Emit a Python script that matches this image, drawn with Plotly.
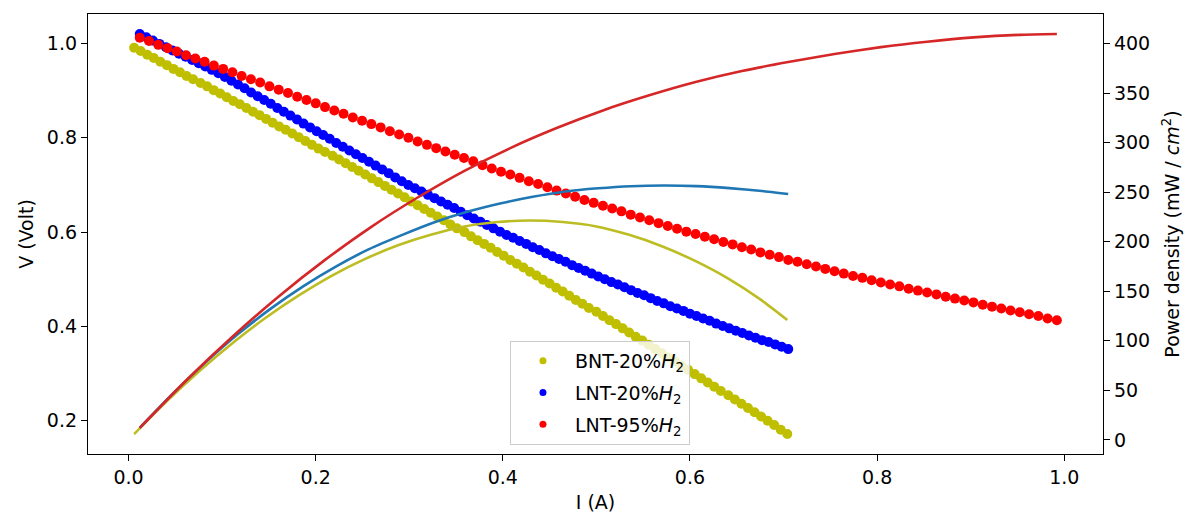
import plotly.graph_objects as go

# ---------------- data ----------------
labels = ["BNT-20%<i>H</i><sub>2</sub>", "LNT-20%<i>H</i><sub>2</sub>", "LNT-95%<i>H</i><sub>2</sub>"]

i_bnt = [0.006,0.013,0.020,0.027,0.034,0.041,0.048,0.055,0.062,0.069,
         0.077,0.084,0.091,0.098,0.105,0.112,0.119,0.126,0.133,0.140,
         0.147,0.154,0.161,0.168,0.175,0.182,0.189,0.196,0.203,0.210,
         0.218,0.225,0.232,0.239,0.246,0.253,0.260,0.267,0.274,0.281,
         0.288,0.295,0.302,0.309,0.316,0.323,0.330,0.337,0.344,0.351,
         0.359,0.366,0.373,0.380,0.387,0.394,0.401,0.408,0.415,0.422,
         0.429,0.436,0.443,0.450,0.457,0.464,0.471,0.478,0.485,0.492,
         0.500,0.507,0.514,0.521,0.528,0.535,0.542,0.549,0.556,0.563,
         0.570,0.577,0.584,0.591,0.598,0.605,0.612,0.619,0.626,0.633,
         0.641,0.648,0.655,0.662,0.669,0.676,0.683,0.690,0.697,0.704]
v_bnt = [0.991,0.984,0.976,0.969,0.961,0.954,0.946,0.939,0.931,0.924,
         0.916,0.909,0.901,0.894,0.886,0.878,0.871,0.863,0.855,0.848,
         0.840,0.832,0.824,0.817,0.809,0.801,0.793,0.785,0.777,0.770,
         0.762,0.754,0.746,0.738,0.730,0.722,0.714,0.706,0.698,0.690,
         0.682,0.674,0.665,0.657,0.649,0.641,0.633,0.625,0.616,0.608,
         0.600,0.591,0.583,0.575,0.567,0.558,0.550,0.541,0.533,0.525,
         0.516,0.508,0.499,0.491,0.482,0.474,0.465,0.456,0.448,0.439,
         0.431,0.422,0.413,0.405,0.396,0.387,0.378,0.370,0.361,0.352,
         0.343,0.334,0.326,0.317,0.308,0.299,0.290,0.281,0.272,0.263,
         0.254,0.245,0.236,0.227,0.218,0.209,0.200,0.191,0.181,0.172]

i_lnt20 = [0.012,0.019,0.026,0.033,0.040,0.047,0.054,0.061,0.068,0.075,
           0.082,0.089,0.096,0.103,0.110,0.117,0.124,0.131,0.138,0.145,
           0.152,0.159,0.166,0.173,0.180,0.187,0.194,0.201,0.208,0.215,
           0.222,0.229,0.236,0.243,0.250,0.257,0.264,0.271,0.278,0.285,
           0.292,0.299,0.306,0.313,0.320,0.327,0.334,0.341,0.348,0.355,
           0.362,0.369,0.376,0.383,0.390,0.397,0.404,0.411,0.418,0.425,
           0.432,0.439,0.446,0.453,0.460,0.467,0.474,0.481,0.488,0.495,
           0.502,0.509,0.516,0.523,0.530,0.537,0.544,0.551,0.558,0.565,
           0.572,0.579,0.586,0.593,0.600,0.607,0.614,0.621,0.628,0.635,
           0.642,0.649,0.656,0.663,0.670,0.677,0.684,0.691,0.698,0.705]
v_lnt20 = [1.020,1.013,1.006,0.999,0.992,0.985,0.978,0.972,0.965,0.958,
           0.951,0.944,0.937,0.929,0.921,0.913,0.905,0.896,0.888,0.880,
           0.872,0.863,0.855,0.847,0.839,0.830,0.822,0.814,0.806,0.798,
           0.789,0.781,0.773,0.765,0.757,0.749,0.741,0.733,0.725,0.716,
           0.708,0.700,0.693,0.686,0.679,0.672,0.665,0.658,0.651,0.643,
           0.636,0.629,0.622,0.615,0.608,0.601,0.594,0.588,0.581,0.575,
           0.568,0.562,0.555,0.549,0.543,0.537,0.530,0.524,0.518,0.512,
           0.506,0.500,0.494,0.489,0.483,0.477,0.471,0.466,0.460,0.454,
           0.449,0.443,0.438,0.433,0.427,0.422,0.417,0.412,0.406,0.401,
           0.396,0.391,0.386,0.381,0.376,0.371,0.367,0.362,0.357,0.352]

i_lnt95 = [0.0120,0.0219,0.0318,0.0417,0.0516,0.0615,0.0714,0.0813,0.0912,0.1011,
           0.1110,0.1209,0.1308,0.1407,0.1506,0.1605,0.1704,0.1803,0.1902,0.2001,
           0.2100,0.2199,0.2298,0.2397,0.2496,0.2595,0.2694,0.2793,0.2892,0.2991,
           0.3090,0.3189,0.3288,0.3387,0.3486,0.3585,0.3684,0.3783,0.3882,0.3981,
           0.4080,0.4179,0.4278,0.4377,0.4476,0.4575,0.4674,0.4773,0.4872,0.4971,
           0.5070,0.5169,0.5268,0.5367,0.5466,0.5565,0.5664,0.5763,0.5862,0.5961,
           0.6060,0.6159,0.6258,0.6357,0.6456,0.6555,0.6654,0.6753,0.6852,0.6951,
           0.7050,0.7149,0.7248,0.7347,0.7446,0.7545,0.7644,0.7743,0.7842,0.7941,
           0.8040,0.8139,0.8238,0.8337,0.8436,0.8535,0.8634,0.8733,0.8832,0.8931,
           0.9030,0.9129,0.9228,0.9327,0.9426,0.9525,0.9624,0.9723,0.9822,0.9921]
v_lnt95 = [1.012,1.005,0.997,0.990,0.983,0.975,0.968,0.961,0.953,0.946,
           0.939,0.931,0.924,0.917,0.909,0.902,0.895,0.887,0.880,0.873,
           0.865,0.858,0.851,0.843,0.836,0.829,0.822,0.814,0.807,0.800,
           0.792,0.785,0.778,0.771,0.764,0.757,0.750,0.742,0.735,0.728,
           0.722,0.715,0.708,0.702,0.695,0.688,0.682,0.675,0.668,0.662,
           0.656,0.650,0.644,0.637,0.631,0.625,0.619,0.613,0.607,0.601,
           0.596,0.590,0.585,0.579,0.574,0.568,0.563,0.557,0.552,0.547,
           0.541,0.537,0.532,0.527,0.522,0.517,0.512,0.507,0.503,0.498,
           0.493,0.489,0.485,0.480,0.476,0.472,0.468,0.463,0.459,0.455,
           0.451,0.446,0.442,0.438,0.434,0.430,0.426,0.422,0.417,0.413]

# power density (mW/cm^2)
pi_bnt = [0.006,0.041,0.077,0.112,0.147,0.182,0.218,0.253,0.288,0.323,0.359,
          0.394,0.429,0.464,0.500,0.535,0.570,0.605,0.641,0.676,0.704]
p_bnt = [5.9,39.1,70.5,98.3,123.5,145.8,166.1,182.7,196.4,207.0,215.4,
         219.9,221.4,219.9,215.5,207.0,195.5,180.9,162.8,141.3,121.1]

pi_lnt20 = [0.012,0.047,0.082,0.117,0.152,0.187,0.222,0.257,0.292,0.327,0.362,
            0.397,0.432,0.467,0.502,0.537,0.572,0.607,0.642,0.677,0.705]
p_lnt20 = [12.2,46.3,78.0,106.8,132.5,155.2,175.2,192.5,206.7,219.7,230.2,
           238.6,245.4,250.8,254.0,256.1,256.8,256.2,254.2,251.2,248.2]

pi_lnt95 = [0.0120,0.0615,0.1110,0.1605,0.2100,0.2595,0.3090,0.3585,0.4080,0.4575,0.5070,
            0.5565,0.6060,0.6555,0.7050,0.7545,0.8040,0.8535,0.9030,0.9525,0.9921]
p_lnt95 = [12.1,60.0,104.2,144.8,181.7,215.1,244.7,271.4,294.6,314.8,332.6,
           347.8,361.2,372.3,381.4,389.5,396.5,402.0,406.3,408.9,409.7]

x_ticks = [0.0, 0.2, 0.4, 0.6, 0.8, 1.0]
v_ticks = [0.2, 0.4, 0.6, 0.8, 1.0]
p_ticks = [0, 50, 100, 150, 200, 250, 300, 350, 400]

# ---------------- styles ----------------
dot_colors = ["#bfbf00", "#0000ff", "#ff0000"]
line_colors = ["#bcbd22", "#1f77b4", "#d62728"]
FONT = "DejaVu Sans"
FS = 19

fig = go.Figure()

v_series = [(i_bnt, v_bnt), (i_lnt20, v_lnt20), (i_lnt95, v_lnt95)]
for k, (xs, ys) in enumerate(v_series):
    fig.add_trace(go.Scatter(
        x=xs, y=ys, mode="markers", showlegend=False,
        marker=dict(color=dot_colors[k], size=10, line=dict(width=0)),
        yaxis="y", hoverinfo="skip"))

p_series = [(pi_bnt, p_bnt), (pi_lnt20, p_lnt20), (pi_lnt95, p_lnt95)]
for k, (xs, ys) in enumerate(p_series):
    fig.add_trace(go.Scatter(
        x=xs, y=ys, mode="lines", showlegend=False,
        line=dict(color=line_colors[k], width=2.6, shape="spline", smoothing=0.6),
        yaxis="y2", hoverinfo="skip"))

# legend entries (smaller symbols, as in the reference legend)
for k in range(3):
    fig.add_trace(go.Scatter(
        x=[None], y=[None], mode="markers", name=labels[k],
        legendgroup="g%d" % k,
        marker=dict(color=dot_colors[k], size=7, line=dict(width=0)),
        yaxis="y"))

axis_common = dict(
    showgrid=False, zeroline=False, showline=True, linecolor="#000000", linewidth=1.3,
    ticks="outside", ticklen=6, tickwidth=1.3, tickcolor="#000000",
    tickfont=dict(family=FONT, size=FS, color="#000000"),
)

fig.update_layout(
    width=1186, height=515,
    margin=dict(l=88, r=83, t=14, b=61),
    paper_bgcolor="white", plot_bgcolor="white",
    font=dict(family=FONT, size=FS, color="#000000"),
    xaxis=dict(range=[-0.0433, 1.0414], tickvals=x_ticks, tickformat=".1f",
               mirror=True, automargin=False,
               title=dict(text="I (A)", standoff=8, font=dict(family=FONT, size=FS)),
               **axis_common),
    yaxis=dict(range=[0.1296, 1.0624], tickvals=v_ticks, tickformat=".1f",
               automargin=False,
               title=dict(text="V (Volt)", standoff=8, font=dict(family=FONT, size=FS)),
               **axis_common),
    yaxis2=dict(range=[-14.24, 429.93], tickvals=p_ticks, overlaying="y", side="right",
                automargin=False,
                title=dict(text="Power density (mW / <i>cm</i><sup>2</sup>)", standoff=16,
                           font=dict(family=FONT, size=FS)),
                **axis_common),
    legend=dict(x=0.5044, xanchor="center", y=0.0205, yanchor="bottom",
                bgcolor="rgba(255,255,255,0.8)", bordercolor="#cccccc", borderwidth=1,
                font=dict(family=FONT, size=FS, color="#000000"),
                traceorder="grouped", tracegroupgap=4,
                itemwidth=54, entrywidth=170),
    showlegend=True,
)

fig.write_html("out.html")
